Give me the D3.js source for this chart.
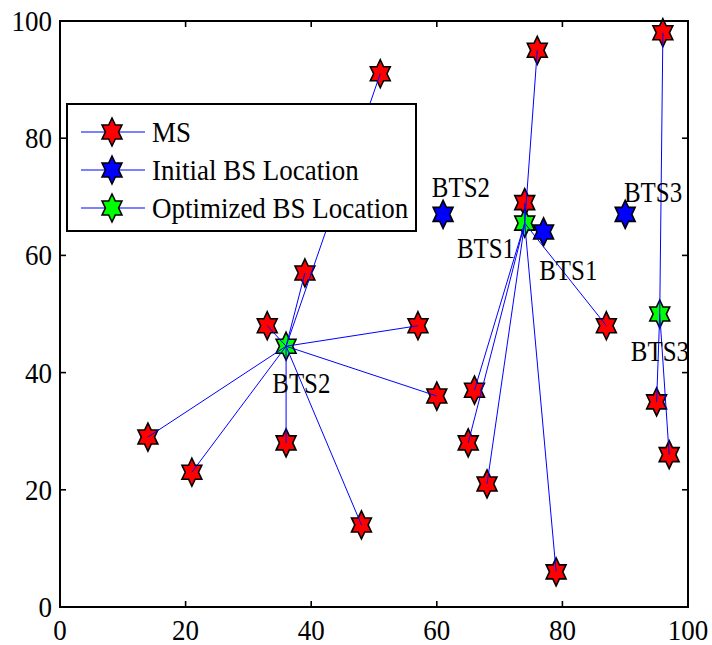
<!DOCTYPE html>
<html>
<head>
<meta charset="utf-8">
<script src="https://cdn.jsdelivr.net/npm/d3@7/dist/d3.min.js"></script>
<style>
  body { margin: 0; background: #fff; }
  text { font-family: "Liberation Serif", "Times New Roman", serif; fill: #000; }
</style>
</head>
<body>
<div id="chart"></div>
<script>
// mobile stations
const msX = [51, 76, 96, 74, 39, 33, 57, 87, 60, 66, 95, 14, 36, 65, 97, 21, 68, 48, 79];
const msY = [91, 95, 98, 69, 57, 48, 48, 48, 36, 37, 35, 29, 28, 28, 26, 23, 21, 14, 6];
// which optimized BS serves each MS (0 = BTS1, 1 = BTS2, 2 = BTS3)
const msLink = [1, 0, 2, 0, 1, 1, 1, 0, 1, 0, 2, 1, 1, 0, 2, 1, 0, 1, 0];

const initX = [77, 61, 90];
const initY = [64, 67, 67];
const optX = [74, 36, 95.5];
const optY = [65.5, 44.5, 50];

const labelText = ['BTS2', 'BTS3', 'BTS1', 'BTS1', 'BTS2', 'BTS3'];
const labelX = [59.2, 89.8, 76.3, 63.2, 33.8, 90.9];
const labelY = [70.0, 69.1, 55.8, 59.6, 36.6, 42.0];

const ticks = [0, 20, 40, 60, 80, 100];
const legendNames = ['MS', 'Initial BS Location', 'Optimized BS Location'];
const legendColors = ['#ff0000', '#0000ff', '#00ff00'];

const width = 712, height = 645;
const mLeft = 60, mRight = 688, mTop = 21, mBottom = 607;
const fs = 29, sx = 0.86;   // the figure is squeezed sideways a bit
const sxBig = 0.93;         // legend and tick text come out a little wider

const x = d3.scaleLinear().domain([0, 100]).range([mLeft, mRight]);
const y = d3.scaleLinear().domain([0, 100]).range([mBottom, mTop]);

const svg = d3.select('#chart').append('svg')
    .attr('width', width)
    .attr('height', height)
    .style('background', '#fff');

// hexagram marker
function starPath(R) {
    const pts = d3.range(12).map(k => {
        const a = -Math.PI / 2 + k * Math.PI / 6;
        const r = k % 2 === 0 ? R : R / Math.sqrt(3);
        return [r * Math.cos(a) * 0.82, r * Math.sin(a)];
    });
    return d3.line()(pts) + 'Z';
}
const star = starPath(14);

function drawStars(xs, ys, color) {
    svg.append('g').selectAll('path')
        .data(xs)
        .join('path')
        .attr('d', star)
        .attr('transform', (d, i) => `translate(${x(d)},${y(ys[i])})`)
        .attr('fill', color)
        .attr('stroke', '#000')
        .attr('stroke-width', 1.6)
        .attr('stroke-linejoin', 'miter');
}

drawStars(msX, msY, legendColors[0]);
drawStars(initX, initY, legendColors[1]);
drawStars(optX, optY, legendColors[2]);

// links from optimized BS to its mobiles
svg.append('g').selectAll('line')
    .data(msX)
    .join('line')
    .attr('x1', (d, i) => x(optX[msLink[i]]))
    .attr('y1', (d, i) => y(optY[msLink[i]]))
    .attr('x2', d => x(d))
    .attr('y2', (d, i) => y(msY[i]))
    .attr('stroke', '#0000ff')
    .attr('stroke-width', 1);

// labels
svg.append('g').selectAll('text')
    .data(labelText)
    .join('text')
    .attr('transform', (d, i) => `translate(${x(labelX[i])},${y(labelY[i])}) scale(${sx},1)`)
    .style('font-size', fs + 'px')
    .text(d => d);

// axes box
const axes = svg.append('g');
axes.append('rect')
    .attr('x', mLeft).attr('y', mTop)
    .attr('width', mRight - mLeft).attr('height', mBottom - mTop)
    .attr('fill', 'none').attr('stroke', '#000').attr('stroke-width', 2);

const tl = 6;
ticks.forEach(t => {
    axes.append('line').attr('x1', x(t)).attr('x2', x(t)).attr('y1', mBottom).attr('y2', mBottom - tl);
    axes.append('line').attr('x1', x(t)).attr('x2', x(t)).attr('y1', mTop).attr('y2', mTop + tl);
    axes.append('line').attr('y1', y(t)).attr('y2', y(t)).attr('x1', mLeft).attr('x2', mLeft + tl);
    axes.append('line').attr('y1', y(t)).attr('y2', y(t)).attr('x1', mRight).attr('x2', mRight - tl);
});
axes.selectAll('line').attr('stroke', '#000').attr('stroke-width', 1.6);

axes.selectAll('.xt')
    .data(ticks)
    .join('text')
    .attr('class', 'xt')
    .attr('text-anchor', 'middle')
    .attr('transform', d => `translate(${x(d)},${mBottom + 33}) scale(${sxBig},1)`)
    .style('font-size', fs + 'px')
    .text(d => d);

axes.selectAll('.yt')
    .data(ticks)
    .join('text')
    .attr('class', 'yt')
    .attr('text-anchor', 'end')
    .attr('transform', d => `translate(${mLeft - 8},${y(d) + 10}) scale(${sxBig},1)`)
    .style('font-size', fs + 'px')
    .text(d => d);

// legend
const legend = svg.append('g').attr('transform', 'translate(67,104)');
legend.append('rect')
    .attr('width', 349).attr('height', 127)
    .attr('fill', '#fff').attr('stroke', '#000').attr('stroke-width', 2);

const item = legend.selectAll('.item')
    .data(legendNames)
    .join('g')
    .attr('class', 'item')
    .attr('transform', (d, i) => `translate(0,${28 + i * 38})`);

item.append('line')
    .attr('x1', 14).attr('x2', 78)
    .attr('stroke', '#0000ff').attr('stroke-width', 1.2);
item.append('path')
    .attr('d', star)
    .attr('transform', 'translate(45,0)')
    .attr('fill', (d, i) => legendColors[i])
    .attr('stroke', '#000').attr('stroke-width', 1.6);
item.append('text')
    .attr('transform', `translate(85,10) scale(${sxBig},1)`)
    .style('font-size', fs + 'px')
    .text(d => d);
</script>
</body>
</html>
